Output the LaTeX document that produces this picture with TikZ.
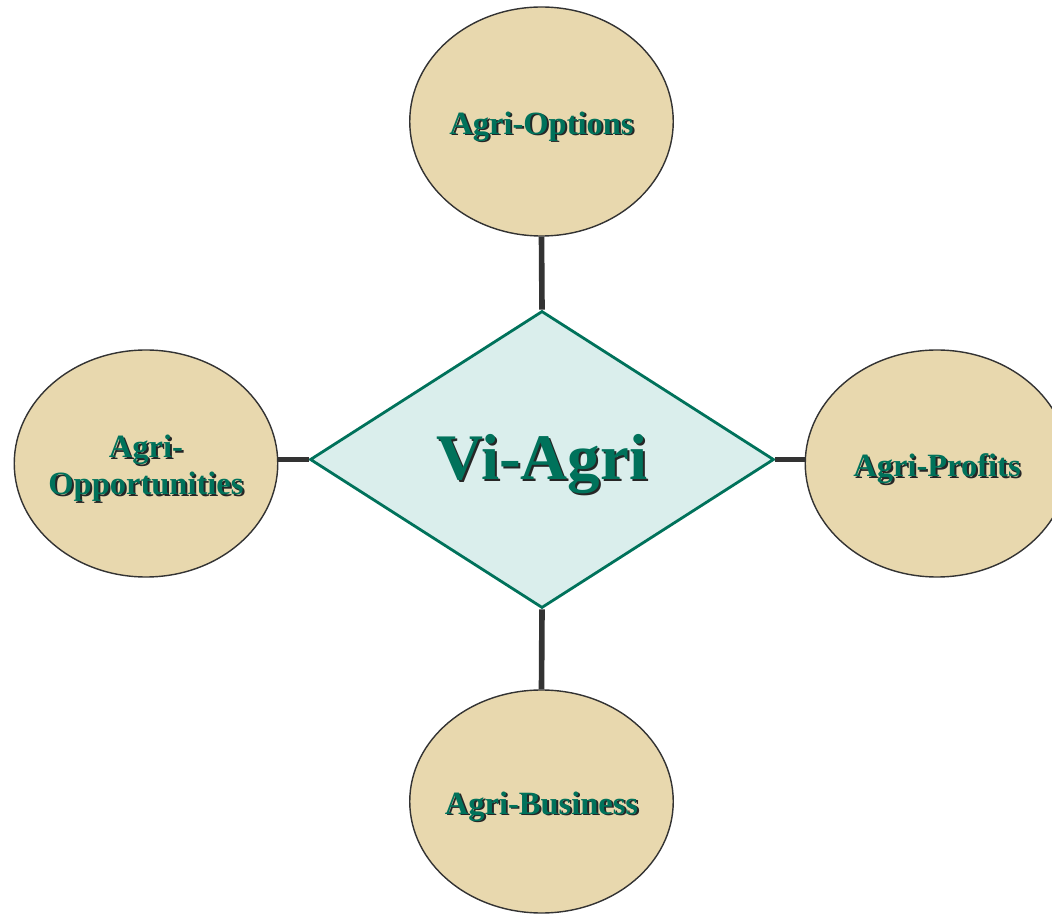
\documentclass[tikz,border=0pt]{standalone}
\usepackage{fontspec}
\setmainfont{Liberation Serif}
\usepackage{tikz}
\usetikzlibrary{shapes.geometric}

\definecolor{wheat}{HTML}{E8D8AE}
\definecolor{mint}{HTML}{DAEEEC}
\definecolor{agrigreen}{HTML}{00725B}
\definecolor{linegray}{HTML}{333333}

% text with a dark drop shadow (drawn a little low, size kept)
\newcommand{\shtxt}[1]{\raisebox{-3.3pt}[\height][\depth]{\rlap{\kern1.1pt\raisebox{-1.1pt}{\color{black!85}#1}}#1}}

\begin{document}
\begin{tikzpicture}[
    satellite/.style={ellipse, draw=linegray, line width=0.8pt, fill=wheat,
        inner ysep=0pt, inner xsep=-8pt, minimum width=5.27cm, align=center,
        text=agrigreen, font=\fontsize{18.5}{21}\selectfont\bfseries},
    hub/.style={diamond, draw=agrigreen, line width=1.6pt, fill=mint,
        inner sep=0pt, minimum width=9.28cm, minimum height=5.94cm,
        text=agrigreen, font=\fontsize{37}{40}\selectfont\bfseries},
    link/.style={draw=linegray, line width=3.2pt}
]
    \useasboundingbox (0,0) rectangle (21.04,-18.34);

    % Centre
    \node[hub] (viagri) at (10.84,-9.19) {\shtxt{Vi-Agri}};

    % Surrounding ellipses
    \node[satellite, minimum height=4.58cm] (options) at (10.83,-2.43) {\shtxt{Agri-Options}};
    \node[satellite, minimum height=4.54cm] (opport) at (2.92,-9.27) {\shtxt{Agri-}\\\shtxt{Opportunities}};
    \node[satellite, minimum height=4.54cm] (profits) at (18.74,-9.27) {\shtxt{Agri-Profits}};
    \node[satellite, minimum height=4.46cm] (business) at (10.83,-16.03) {\shtxt{Agri-Business}};

    % Links
    \draw[link] (viagri.north) -- (options.south);
    \draw[link] (viagri.south) -- (business.north);
    \draw[link] (viagri.west) -- (opport.east |- viagri.west);
    \draw[link] (viagri.east) -- (profits.west |- viagri.east);
\end{tikzpicture}
\end{document}
